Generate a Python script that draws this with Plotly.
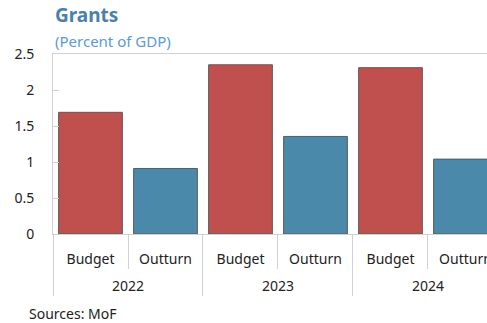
import plotly.graph_objects as go

years = ["2022", "2023", "2024"]
kinds = ["Budget", "Outturn"]
budget = [1.69, 2.35, 2.31]
outturn = [0.91, 1.355, 1.04]
y_ticks = [0, 0.5, 1, 1.5, 2, 2.5]
y_tick_text = ["0", "0.5", "1", "1.5", "2", "2.5"]

red = "#C0504D"
blue = "#4A89AA"
font = "Noto Sans"

year_labels = ["<br>" + y for y in years]

fig = go.Figure()
fig.add_trace(go.Bar(
    x=[year_labels, [kinds[0]] * 3], y=budget, marker=dict(color=red, line=dict(color="#5a5a5a", width=1)),
    name="Budget", showlegend=False))
fig.add_trace(go.Bar(
    x=[year_labels, [kinds[1]] * 3], y=outturn, marker=dict(color=blue, line=dict(color="#5a5a5a", width=1)),
    name="Outturn", showlegend=False))

fig.update_layout(
    width=487, height=323,
    margin=dict(l=53, r=0, t=54, b=89),
    paper_bgcolor="white", plot_bgcolor="white",
    barmode="relative", bargap=0.15,
    font=dict(family=font, size=14, color="#222222"),
)
fig.update_xaxes(
    type="multicategory",
    range=[-0.5, 5.287],
    showline=True, linecolor="#d0d0d0", linewidth=1, mirror=True,
    ticks="outside", tickcolor="#d0d0d0", ticklen=34,
    ticklabelstandoff=12,
    showdividers=True, dividercolor="#d0d0d0", dividerwidth=1,
    tickfont=dict(family=font, size=14, color="#222222"),
    showgrid=False,
)
fig.update_yaxes(
    range=[0, 2.5], tickvals=y_ticks, ticktext=y_tick_text,
    showline=True, linecolor="#d0d0d0", linewidth=1,
    ticks="inside", tickcolor="#d0d0d0", ticklen=6,
    ticklabelstandoff=15,
    showgrid=False, zeroline=False,
    tickfont=dict(family=font, size=14, color="#222222"),
)

fig.add_annotation(text="<b>Grants</b>", xref="paper", yref="paper", x=0, y=1,
                   xanchor="left", yanchor="bottom", yshift=24, xshift=0, showarrow=False,
                   font=dict(family=font, size=19, color="#4A7FB0"))
fig.add_annotation(text="(Percent of GDP)", xref="paper", yref="paper", x=0, y=1,
                   xanchor="left", yanchor="bottom", yshift=1, xshift=0, showarrow=False,
                   font=dict(family=font, size=15, color="#5B9BD5"))
fig.add_annotation(text="Sources: MoF", xref="paper", yref="paper", x=0, y=0,
                   xanchor="left", yanchor="top", xshift=-26, yshift=-68, showarrow=False,
                   font=dict(family=font, size=14, color="#222222"))

fig.write_html("out.html")
